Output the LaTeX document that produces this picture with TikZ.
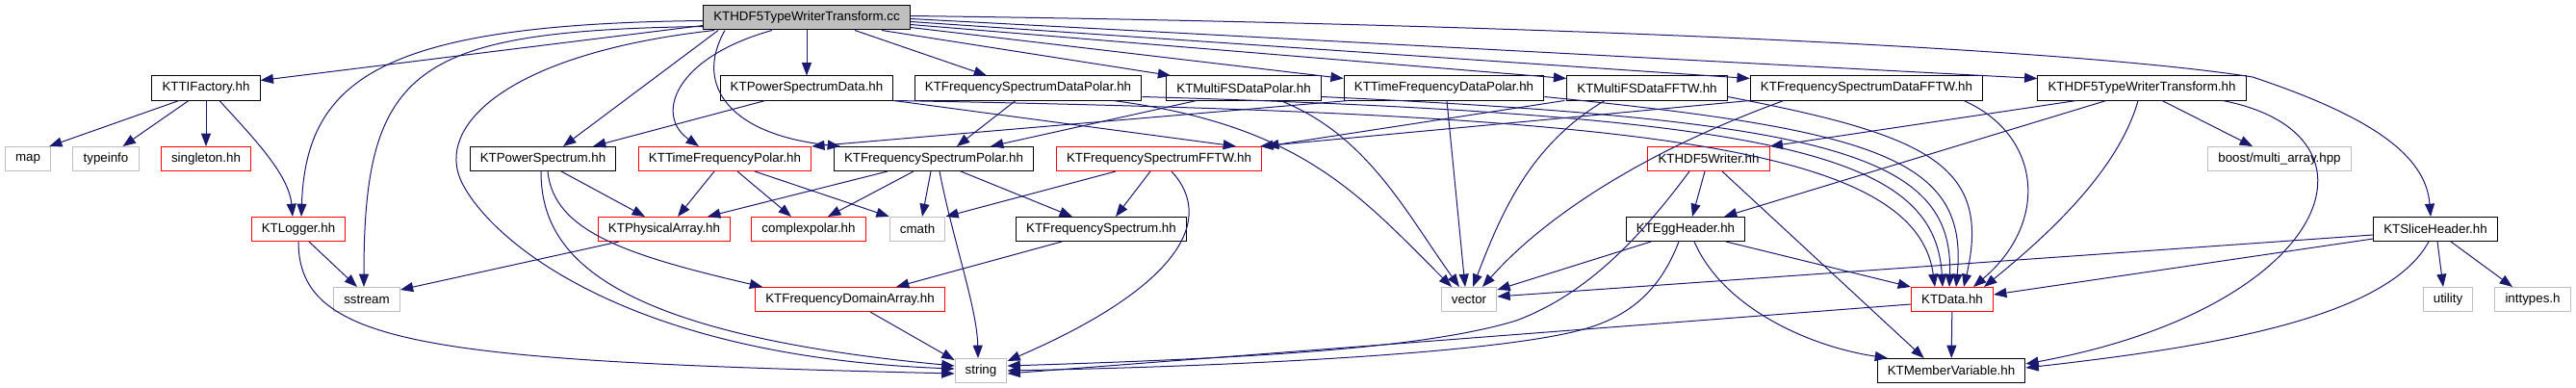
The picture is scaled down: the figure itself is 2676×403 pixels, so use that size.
\documentclass[tikz,border=0pt]{standalone}
\usepackage{fontspec}
\setmainfont{Liberation Sans}
\usetikzlibrary{arrows.meta, calc}

\definecolor{edgeblue}{HTML}{191970}
\definecolor{greybox}{HTML}{BFBFBF}

\begin{document}
\begin{tikzpicture}[x=0.75pt, y=-0.75pt,
  hdr/.style={draw=black, fill=white, line width=0.75pt, font=\fontsize{10}{12}\selectfont,
    inner xsep=8pt, inner ysep=0pt, minimum height=18.75pt},
  syshdr/.style={hdr, draw=greybox},
  cuthdr/.style={hdr, draw=red},
  rootfile/.style={hdr, fill=greybox},
  dep/.style={draw=edgeblue, line width=0.75pt, -{Triangle[length=10pt,width=7.5pt]}}]
\useasboundingbox (0,0) rectangle (2676,403);

% row 1
\node [rootfile] (root) at (838,18.5) {KTHDF5TypeWriterTransform.cc};
% row 2
\node [hdr] (tif)  at (214,91.5)  {KTTIFactory.hh};
\node [hdr] (psd)  at (838,91.5)  {KTPowerSpectrumData.hh};
\node [hdr] (fsdp) at (1068,91.5) {KTFrequencySpectrumDataPolar.hh};
\node [hdr] (mfsp) at (1292,91.5) {KTMultiFSDataPolar.hh};
\node [hdr] (tfdp) at (1500,91.5) {KTTimeFrequencyDataPolar.hh};
\node [hdr] (mfsf) at (1711,91.5) {KTMultiFSDataFFTW.hh};
\node [hdr] (fsdf) at (1939,91.5) {KTFrequencySpectrumDataFFTW.hh};
\node [hdr] (h5t)  at (2225,91.5) {KTHDF5TypeWriterTransform.hh};
% row 3
\node [syshdr] (map)       at (29,165)   {map};
\node [syshdr] (typeinfo)  at (110,165)  {typeinfo};
\node [cuthdr] (singleton) at (214,165)  {singleton.hh};
\node [hdr]    (ps)        at (564,165)  {KTPowerSpectrum.hh};
\node [cuthdr] (tfp)       at (753,165)  {KTTimeFrequencyPolar.hh};
\node [hdr]    (fsp)       at (970,165)  {KTFrequencySpectrumPolar.hh};
\node [cuthdr] (fsf)       at (1204,165) {KTFrequencySpectrumFFTW.hh};
\node [cuthdr] (h5w)       at (1775,165) {KTHDF5Writer.hh};
\node [syshdr] (boost)     at (2368,165) {boost/multi\_array.hpp};
% row 4
\node [cuthdr] (logger) at (310,238)  {KTLogger.hh};
\node [cuthdr] (pa)     at (690,238)  {KTPhysicalArray.hh};
\node [cuthdr] (cpolar) at (840,238)  {complexpolar.hh};
\node [syshdr] (cmath)  at (953,238)  {cmath};
\node [hdr]    (fs)     at (1144,238) {KTFrequencySpectrum.hh};
\node [hdr]    (egg)    at (1751,238) {KTEggHeader.hh};
\node [hdr]    (slice)  at (2530,238) {KTSliceHeader.hh};
% row 5
\node [syshdr] (sstream)  at (381,311)  {sstream};
\node [cuthdr] (fda)      at (883,311)  {KTFrequencyDomainArray.hh};
\node [syshdr] (vector)   at (1526,311) {vector};
\node [cuthdr] (data)     at (2028,311) {KTData.hh};
\node [syshdr] (utility)  at (2543,311) {utility};
\node [syshdr] (inttypes) at (2631,311) {inttypes.h};
% row 6
\node [syshdr] (string) at (1019,385) {string};
\node [hdr]    (mv)     at (2027,385) {KTMemberVariable.hh};

% includes of the .cc file
\draw [dep] ($(root.west)+(0,8)$) -- ($(tif.east)+(0,-8)$);
\draw [dep] ($(root.west)+(0,3)$) .. controls (400,25) and (318,80) .. ($(logger.north)+(3,0)$);
\draw [dep] ($(root.south west)+(0,-4)$) .. controls (430,32) and (378,70) .. ($(sstream.north)+(-3,0)$);
\draw [dep] ($(root.south west)+(12,0)$) .. controls (530,55) and (450,130) .. (480,190)
  .. controls (510,250) and (650,370) .. ($(string.west)+(0,-2)$);
\draw [dep] ($(root.south west)+(16,0)$) -- ($(ps.north)+(21,0)$);
\draw [dep] ($(root.south)+(-36,0)$) .. controls (700,60) and (680,120) .. ($(tfp.north)+(-27,0)$);
\draw [dep] ($(root.south)+(-85,0)$) .. controls (720,90) and (760,140) .. ($(fsp.north)+(-97,0)$);
\draw [dep] (root) -- (psd);
\draw [dep] ($(root.south)+(50,0)$) -- ($(fsdp.north)+(-43,0)$);
\draw [dep] ($(root.south east)+(-30,0)$) -- ($(mfsp.north west)+(5,0)$);
\draw [dep] ($(root.east)+(0,10)$) -- ($(tfdp.west)+(0,-10)$);
\draw [dep] ($(root.east)+(0,7)$) -- ($(mfsf.west)+(0,-10)$);
\draw [dep] ($(root.east)+(0,4)$) -- ($(fsdf.west)+(0,-10)$);
\draw [dep] ($(root.east)+(0,1)$) -- ($(h5t.west)+(0,-10)$);
\draw [dep] ($(root.east)+(0,-2)$) .. controls (1600,25) and (2150,50) .. (2340,80)
  .. controls (2460,120) and (2520,160) .. ($(slice.north)+(-5,0)$);

% KTTIFactory.hh, KTLogger.hh
\draw [dep] ($(tif.south)+(-28,0)$) -- ($(map.north east)+(-2,0)$);
\draw [dep] ($(tif.south)+(-18,0)$) -- ($(typeinfo.north east)+(-17,0)$);
\draw [dep] (tif) -- (singleton);
\draw [dep] ($(tif.south)+(14,0)$) .. controls (260,140) and (300,180) .. ($(logger.north)+(-6,0)$);
\draw [dep] ($(logger.south)+(11,0)$) -- ($(sstream.north)+(-10,0)$);
\draw [dep] (logger.south) .. controls (310,360) and (450,375) .. ($(string.west)+(0,3)$);

% spectra and arrays
\draw [dep] ($(ps.south)+(19,0)$) -- ($(pa.north)+(-20,0)$);
\draw [dep] ($(ps.south)+(5,0)$) .. controls (575,240) and (650,265) .. ($(fda.north west)+(8,0)$);
\draw [dep] ($(ps.south)+(-2,0)$) .. controls (562,260) and (620,345) .. ($(string.west)+(0,-5)$);
\draw [dep] ($(tfp.south)+(-11,0)$) -- ($(pa.north)+(14,0)$);
\draw [dep] ($(tfp.south)+(13,0)$) -- ($(cpolar.north)+(-18,0)$);
\draw [dep] ($(tfp.south)+(31,0)$) -- (cmath.north west);
\draw [dep] ($(fsp.south)+(-48,0)$) -- ($(pa.north)+(45,0)$);
\draw [dep] ($(fsp.south)+(-21,0)$) -- ($(cpolar.north)+(20,0)$);
\draw [dep] ($(fsp.south)+(-3,0)$) -- ($(cmath.north)+(5,0)$);
\draw [dep] ($(fsp.south)+(6,0)$) .. controls (990,250) and (1015,320) .. ($(string.north)+(-3,0)$);
\draw [dep] ($(fsp.south)+(28,0)$) -- ($(fs.north)+(-30,0)$);
\draw [dep] ($(fsf.south)+(-45,0)$) -- (cmath.north east);
\draw [dep] ($(fsf.south)+(-9,0)$) -- ($(fs.north)+(15,0)$);
\draw [dep] ($(fsf.south)+(13,0)$) .. controls (1265,230) and (1220,300) .. ($(string.north east)+(0,3)$);
\draw [dep] ($(fs.south)+(-41,0)$) -- ($(fda.north)+(48,0)$);
\draw [dep] ($(fda.south)+(21,0)$) -- ($(string.north west)+(0,2)$);
\draw [dep] ($(pa.south)+(-47,0)$) -- ($(sstream.east)+(0,-10)$);

% data headers
\draw [dep] ($(psd.south)+(-43,0)$) -- ($(ps.north)+(52,0)$);
\draw [dep] (psd.south east) -- ($(fsf.north)+(80,0)$);
\draw [dep] (psd.south east) .. controls (1700,118) and (1990,150) .. ($(data.north)+(-18,0)$);
\draw [dep] ($(fsdp.south)+(-13,0)$) -- ($(fsp.north)+(24,0)$);
\draw [dep] ($(fsdp.south east)+(-30,0)$) .. controls (1350,130) and (1410,200) .. ($(vector.north)+(-18,0)$);
\draw [dep] ($(fsdp.east)+(0,9)$) .. controls (1850,120) and (2010,160) .. ($(data.north)+(-10,0)$);
\draw [dep] ($(mfsp.south)+(-49,0)$) -- ($(fsp.north)+(59,0)$);
\draw [dep] ($(mfsp.south)+(38,0)$) .. controls (1420,140) and (1460,220) .. ($(vector.north)+(-10,0)$);
\draw [dep] ($(mfsp.east)+(0,9)$) .. controls (1900,125) and (2030,160) .. ($(data.north)+(-3,0)$);
\draw [dep] ($(tfdp.south west)+(5,0)$) -- (tfp.north east);
\draw [dep] ($(tfdp.south)+(3,0)$) -- ($(vector.north)+(-4,0)$);
\draw [dep] ($(tfdp.east)+(0,9)$) .. controls (1950,135) and (2045,165) .. ($(data.north)+(4,0)$);
\draw [dep] ($(mfsf.south west)+(-2,0)$) -- ($(fsf.north east)+(4,0)$);
\draw [dep] ($(mfsf.south)+(-44,0)$) .. controls (1590,150) and (1560,220) .. ($(vector.north)+(4,0)$);
\draw [dep] ($(mfsf.east)+(0,9)$) .. controls (2000,140) and (2070,170) .. ($(data.north)+(12,0)$);
\draw [dep] (fsdf.south west) -- ($(fsf.north east)+(-2,0)$);
\draw [dep] ($(fsdf.south)+(-86,0)$) .. controls (1700,160) and (1600,230) .. ($(vector.north)+(14,0)$);
\draw [dep] ($(fsdf.south)+(101,0)$) .. controls (2120,140) and (2130,230) .. ($(data.north)+(22,0)$);

% writer side
\draw [dep] ($(h5t.south)+(-68,0)$) -- (h5w.north east);
\draw [dep] ($(h5t.south)+(-37,0)$) -- ($(egg.north)+(40,0)$);
\draw [dep] ($(h5t.south)+(-4,0)$) .. controls (2200,180) and (2120,250) .. ($(data.north east)+(-10,0)$);
\draw [dep] ($(h5t.south)+(21,0)$) -- ($(boost.north)+(-28,0)$);
\draw [dep] ($(h5t.south)+(84,0)$) .. controls (2490,140) and (2420,320) .. ($(mv.east)+(0,-7)$);
\draw [dep] ($(h5w.south)+(-4,0)$) -- ($(egg.north)+(7,0)$);
\draw [dep] ($(h5w.south)+(-20,0)$) .. controls (1705,245) and (1650,305) .. (1575,333)
  .. controls (1480,362) and (1300,372) .. ($(string.east)+(0,-5)$);
\draw [dep] ($(h5w.south)+(14,0)$) -- ($(mv.north west)+(49,0)$);
\draw [dep] ($(egg.south)+(-36,0)$) -- ($(vector.east)+(0,-10)$);
\draw [dep] ($(egg.south)+(-7,0)$) .. controls (1725,300) and (1695,328) .. (1645,342)
  .. controls (1560,366) and (1300,380) .. (string.east);
\draw [dep] ($(egg.south)+(9,0)$) .. controls (1790,320) and (1880,360) .. ($(mv.north)+(-66,0)$);
\draw [dep] ($(egg.south)+(42,0)$) -- (data.north west);
\draw [dep] ($(slice.west)+(0,6)$) -- ($(vector.east)+(0,-3)$);
\draw [dep] ($(slice.west)+(0,10)$) -- ($(data.east)+(0,-5)$);
\draw [dep] ($(slice.south)+(2,0)$) -- ($(utility.north)+(-5,0)$);
\draw [dep] ($(slice.south)+(16,0)$) -- ($(inttypes.north)+(-21,0)$);
\draw [dep] ($(slice.south)+(-7,0)$) .. controls (2480,330) and (2300,360) .. ($(mv.east)+(0,-3)$);
\draw [dep] (data) -- (mv);
\draw [dep] ($(data.west)+(0,5)$) -- ($(string.east)+(0,3)$);
\end{tikzpicture}
\end{document}
